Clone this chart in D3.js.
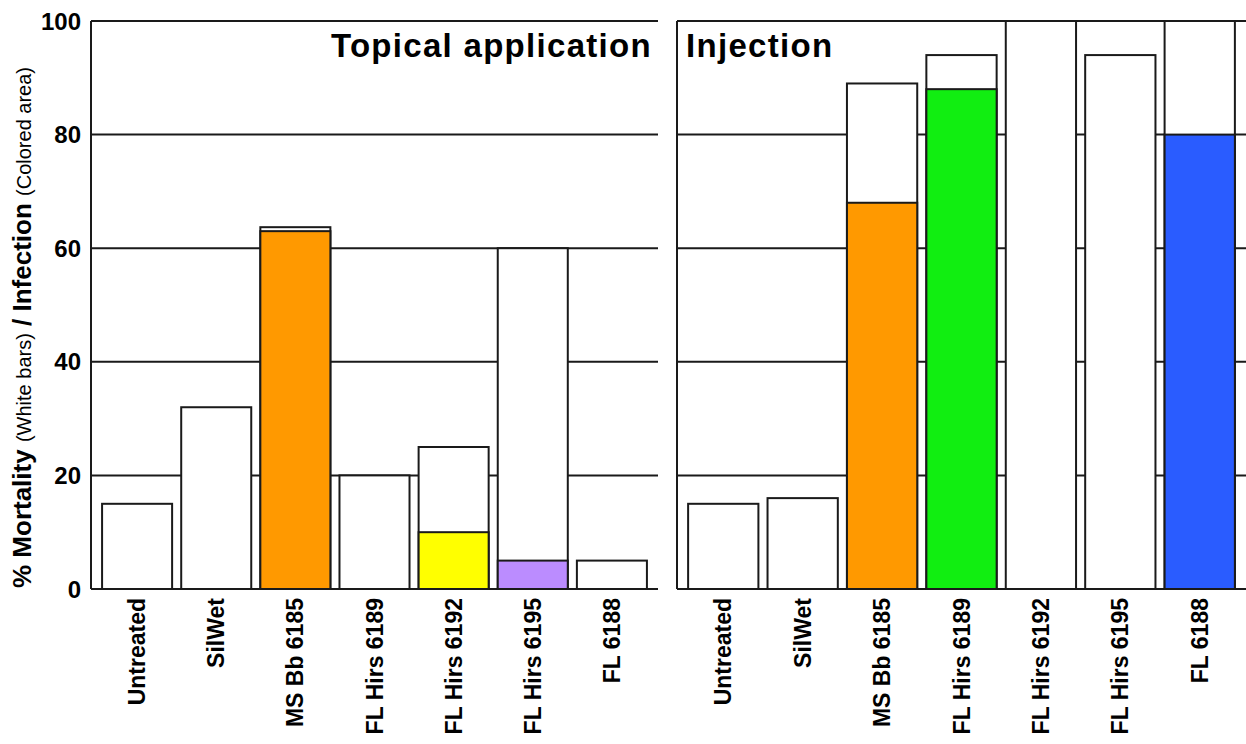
<!DOCTYPE html>
<html>
<head>
<meta charset="utf-8">
<script src="https://cdn.jsdelivr.net/npm/d3@7"></script>
<style>
  html, body { margin: 0; padding: 0; background: #fff; }
  svg { display: block; }
  text { font-family: "Liberation Sans", Arial, sans-serif; fill: #000; }
</style>
</head>
<body>
<svg id="chart" width="1246" height="744"></svg>
<script>
// ---- Data ----
const categories = ["Untreated", "SilWet", "MS Bb 6185", "FL Hirs 6189", "FL Hirs 6192", "FL Hirs 6195", "FL 6188"];
const infectionColors = ["#FFFFFF", "#FFFFFF", "#FF9900", "#11EE11", "#FFFF00", "#BB8CFF", "#2A5CFF"];
const topicalMortality = [15, 32, 63.7, 20, 25, 60, 5];
const topicalInfection = [0, 0, 63, 0, 10, 5, 0];
const injectionMortality = [15, 16, 89, 94, 100, 94, 100];
const injectionInfection = [0, 0, 68, 88, 0, 0, 80];
const yTicks = [0, 20, 40, 60, 80, 100];
const panelTitles = ["Topical application", "Injection"];

// ---- Layout ----
const svg = d3.select("#chart");
const yTop = 21, yBottom = 589;
const y = d3.scaleLinear().domain([0, 100]).range([yBottom, yTop]);

const panels = [
  { x0: 91, x1: 658, mort: topicalMortality, inf: topicalInfection, title: panelTitles[0], anchor: "end", tx: 652 },
  { x0: 677, x1: 1246, mort: injectionMortality, inf: injectionInfection, title: panelTitles[1], anchor: "start", tx: 686 }
];

const lineColor = "#1a1a1a";

panels.forEach((p, pi) => {
  const x = d3.scaleBand().domain(categories).range([p.x0, p.x1]).paddingInner(0.115).paddingOuter(0.14);
  const g = svg.append("g");

  // gridlines (including top and bottom)
  g.selectAll("line.grid").data(yTicks).enter().append("line")
    .attr("x1", p.x0).attr("x2", p.x1)
    .attr("y1", d => y(d)).attr("y2", d => y(d))
    .attr("stroke", lineColor).attr("stroke-width", 2);

  // left border
  g.append("line")
    .attr("x1", p.x0).attr("x2", p.x0)
    .attr("y1", y(100)).attr("y2", y(0))
    .attr("stroke", lineColor).attr("stroke-width", 2);

  // white mortality bars
  g.selectAll("rect.mort").data(categories).enter().append("rect")
    .attr("x", d => x(d))
    .attr("width", x.bandwidth())
    .attr("y", (d, i) => y(p.mort[i]))
    .attr("height", (d, i) => y(0) - y(p.mort[i]))
    .attr("fill", "#fff").attr("stroke", lineColor).attr("stroke-width", 2);

  // coloured infection bars
  const infData = categories.map((c, i) => ({ c, v: p.inf[i], col: infectionColors[i] })).filter(d => d.v > 0);
  g.selectAll("rect.inf").data(infData).enter().append("rect")
    .attr("x", d => x(d.c))
    .attr("width", x.bandwidth())
    .attr("y", d => y(d.v))
    .attr("height", d => y(0) - y(d.v))
    .attr("fill", d => d.col).attr("stroke", lineColor).attr("stroke-width", 2);

  // x labels
  g.selectAll("text.xl").data(categories).enter().append("text")
    .attr("transform", d => `translate(${x(d) + x.bandwidth() / 2},598) rotate(-90)`)
    .attr("text-anchor", "end")
    .attr("dy", "0.35em")
    .style("font-size", "23px").style("font-weight", "bold")
    .text(d => d);

  // title
  g.append("text")
    .attr("x", p.tx).attr("y", 57)
    .attr("text-anchor", p.anchor)
    .style("font-size", "33px").style("font-weight", "bold")
    .style("letter-spacing", "1.3px")
    .text(p.title);
});

// y tick labels (left panel only)
svg.selectAll("text.yt").data(yTicks).enter().append("text")
  .attr("x", 81).attr("y", d => y(d))
  .attr("dy", "0.36em")
  .attr("text-anchor", "end")
  .style("font-size", "24px").style("font-weight", "bold")
  .text(d => d);

// y axis label
const yl = svg.append("text")
  .attr("transform", "translate(31,588) rotate(-90)")
  .attr("text-anchor", "start");
yl.append("tspan").style("font-size", "26px").style("font-weight", "bold").text("% Mortality ");
yl.append("tspan").style("font-size", "20px").text("(White bars)");
yl.append("tspan").style("font-size", "26px").style("font-weight", "bold").text(" / Infection ");
yl.append("tspan").style("font-size", "20px").text("(Colored area)");
</script>
</body>
</html>
